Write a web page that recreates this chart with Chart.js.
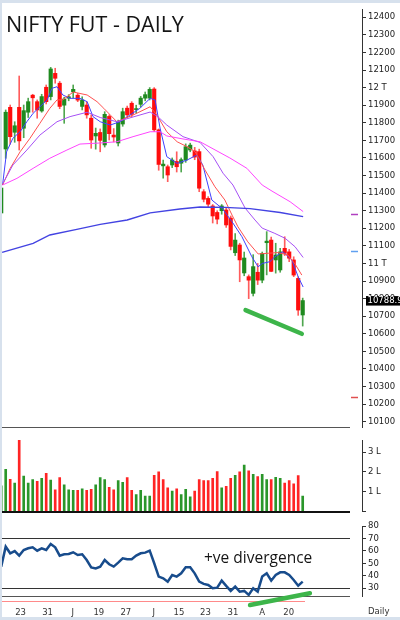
<!DOCTYPE html>
<html>
<head>
<meta charset="utf-8">
<title>NIFTY FUT - DAILY</title>
<script src="https://cdn.jsdelivr.net/npm/chart.js@4.4.1/dist/chart.umd.min.js"></script>
<style>
  html, body { margin: 0; padding: 0; background: #d7e1ed; }
  #page { position: relative; width: 400px; height: 620px; overflow: hidden; background: #fff; }
  #page canvas { position: absolute; left: 0; }
  .edge { position: absolute; background: #d7e1ed; }
</style>
</head>
<body>
<div id="page">
  <canvas id="priceChart" width="400" height="436" style="top:0px"></canvas>
  <canvas id="volumeChart" width="400" height="92" style="top:428px"></canvas>
  <canvas id="rsiChart" width="400" height="106" style="top:514px"></canvas>
  <div class="edge" style="left:0;top:0;width:2px;height:620px"></div>
  <div class="edge" style="left:0;top:0;width:400px;height:3px"></div>
  <div class="edge" style="left:0;top:617px;width:400px;height:3px"></div>
</div>
<script>
// Daily candles (one per trading day)
const opens  = [11287,11651,11888,11746,11888,11769,11860,11957,11920,11867,12002,11949,12081,12025,11900,11940,11976,11957,11893,11901,11826,11725,11745,11674,11836,11730,11685,11793,11883,11911,11875,11905,11940,11940,11992,11760,11555,11550,11560,11580,11570,11588,11645,11640,11636,11408,11370,11327,11290,11300,11304,11258,11061,11105,10946,10925,10830,10950,10905,11118,11133,11020,10963,11086,11066,11020,10915,10707];
const highs  = [11440,11873,11901,11806,12066,11901,11940,11962,11930,11962,12015,12115,12110,12035,11945,11960,12015,11967,11948,11920,11845,11770,11765,11863,11845,11767,11815,11883,11895,11920,11900,11950,11975,12000,12000,11765,11588,11560,11600,11635,11600,11680,11684,11660,11650,11420,11380,11335,11300,11335,11315,11270,11170,11115,11065,10935,11050,11000,11065,11181,11150,11115,11086,11152,11080,11038,10925,10803];
const lows   = [11270,11598,11678,11689,11645,11715,11830,11860,11826,11860,11907,11930,12025,11880,11797,11925,11940,11920,11873,11826,11655,11650,11635,11662,11702,11691,11668,11780,11830,11835,11855,11890,11925,11930,11750,11530,11485,11465,11545,11520,11520,11575,11635,11590,11408,11350,11320,11230,11225,11280,11205,11077,11045,10896,10930,10800,10815,10880,10890,10935,10953,10945,10950,11045,11010,10925,10705,10644];
const closes = [11429,11860,11721,11783,11697,11869,11920,11942,11873,11949,11920,12106,12053,11893,11935,11948,11990,11929,11930,11845,11702,11740,11700,11848,11738,11719,11806,11863,11845,11848,11880,11940,11960,11990,11760,11563,11565,11503,11588,11550,11590,11664,11673,11605,11428,11365,11337,11270,11252,11327,11219,11097,11133,11020,11031,10905,10982,10905,11057,11127,10955,11048,11066,11058,11030,10934,10735,10789];

// Volume in lakh, and the colour of each volume bar (G up / R down)
const volumes = [1.3,2.13,1.62,1.44,3.60,1.79,1.44,1.61,1.52,1.68,1.93,1.59,1.10,1.71,1.35,1.10,1.07,1.07,1.15,1.07,1.12,1.35,1.71,1.61,1.22,1.10,1.56,1.47,1.71,1.07,0.86,1.07,0.78,0.78,1.83,2.00,1.61,1.20,1.03,1.15,0.86,1.12,0.74,1.03,1.61,1.56,1.56,1.68,2.01,1.20,1.27,1.68,1.83,2.00,2.34,2.05,1.88,1.76,1.88,1.61,1.61,1.73,1.68,1.44,1.56,1.40,1.81,0.78];
const volumeDir = 'GGRGRGGGRGRGRRGGGRGRRGGGRRGGRRGGGGRRRRGRGGGRRRRRRGRRGRGRGRGGRGGRRRRG'.split('');

// RSI per candle
const rsiValues = [47.4,63.4,58.1,59.9,56.2,60.7,62.1,62.9,60.2,62.1,60.7,65.6,62.9,56.2,57.3,57.5,58.9,56.7,57.3,52.7,46.8,46.0,47.4,52.7,49.3,47.4,50.6,54.1,53.3,53.3,56.2,58.1,58.6,60.2,50.1,39.4,38.0,35.3,40.7,39.4,42.0,46.8,46.8,42.0,35.3,33.5,32.7,30.0,30.5,36.1,31.9,27.9,31.3,27.3,27.9,24.7,30.0,27.3,39.4,42.0,36.1,40.7,42.8,42.8,40.7,36.7,32.1,35.3];

// Moving averages as [candle index, price] read at the visible bends
const ma5Pts = [[0.3,11446],[1.2,11635],[2.6,11712],[4.2,11749],[5.7,11806],[7.1,11854],[8.6,11891],[10.2,11930],[11.3,11996],[12.4,12005],[13.7,11958],[15.3,11939],[17.5,11939],[19.1,11920],[20.4,11835],[22,11806],[24.2,11787],[26.4,11806],[28.6,11844],[30.8,11882],[33.1,11939],[34.2,11930],[35.3,11770],[36.8,11607],[39.1,11569],[41.3,11588],[43.5,11617],[44.8,11560],[46.8,11361],[49.1,11313],[51.3,11237],[53.5,11152],[55.7,11038],[57.1,10981],[58,11000],[59.7,11010],[60.8,11038],[62.6,11067],[64.6,11019],[66,10924],[67.1,10866]];
const ma10Pts = [[0.3,11446],[2,11541],[4.2,11635],[6.4,11712],[8.6,11797],[10.8,11882],[12.4,11930],[13.7,11930],[16,11975],[19.1,11958],[21.3,11920],[22.8,11882],[25.7,11806],[29.3,11844],[33.1,11891],[34.6,11844],[36.8,11749],[39.1,11692],[41.3,11664],[43.1,11635],[45.3,11531],[47.5,11436],[49.7,11361],[51.3,11275],[52.6,11209],[54.8,11123],[57.1,11054],[59.3,11058],[61.5,11062],[63.7,11048],[65.3,10997],[66.8,10934]];
const ma20Pts = [[0.4,11456],[2.6,11560],[5.7,11645],[8.6,11730],[12.4,11806],[15.3,11835],[19.1,11860],[22,11830],[25.7,11806],[29.3,11833],[33.1,11861],[34.8,11835],[36.8,11787],[40.4,11721],[44.2,11688],[47.1,11607],[49.3,11513],[51.5,11446],[54.2,11315],[56.4,11247],[58,11201],[60.8,11171],[63.1,11143],[65.3,11095],[67.1,11034]];
const ma50Pts = [[0.3,11446],[3.5,11484],[7.1,11541],[10.8,11598],[14.6,11645],[17.5,11679],[22,11685],[25.7,11692],[29.3,11721],[33.1,11749],[35.3,11749],[36.8,11725],[40.4,11708],[44.2,11692],[50.8,11600],[54.6,11541],[58,11446],[60.4,11408],[64.2,11351],[67.1,11295]];
const ma200Pts = [[0.2,11063],[7.1,11114],[10.8,11162],[16.8,11194],[22,11222],[28,11247],[33.1,11288],[39.7,11310],[44.2,11321],[49.7,11319],[55.3,11312],[62,11290],[67.1,11266]];

// Divergence strokes drawn on the chart
const priceDivergence = [[54.3,10735],[66.8,10600]];
const rsiDivergence = [[55.3,16.6],[68.6,26.0]];

// Axis ticks and labels
const priceTicks = [10100,10200,10300,10400,10500,10600,10700,10800,10900,11000,11100,11200,11300,11400,11500,11600,11700,11800,11900,12000,12100,12200,12300,12400];
const volumeTicks = [0,1,2,3];
const rsiTicks = [30,40,50,60,70,80];
const dateTickPos = [4.3,10.3,15.9,21.7,27.7,33.9,39.5,45.4,51.5,58.0,63.9];
const dateTickLabels = ['23','31','J','19','27','J','15','23','31','A','20'];
const levelMarks = [11281,11071,10238];
const levelColors = ['#b040c0','#60a0f0','#e05050'];
const lastPrice = 10788.9;

// ---- layout ----
const X_MIN = -1.2 / 4.5, X_MAX = (362 - 1.2) / 4.5;
const PANEL_RIGHT = 350;
const axisFont = { family: 'DejaVu Sans', size: 8.5 };

const idx = closes.map((_, i) => i);
const isUp = i => closes[i] >= opens[i];
const pts = arr => arr.map(p => ({ x: p[0], y: p[1] }));

function lineSet(arr, color, width) {
  return { type: 'line', data: pts(arr), borderColor: color, borderWidth: width,
           pointRadius: 0, tension: 0, fill: false, order: 0 };
}

function rightAxis(min, max, tickVals, fmt) {
  return {
    position: 'right', min: min, max: max,
    afterFit: s => { s.width = 38; },
    afterBuildTicks: s => { s.ticks = tickVals.map(v => ({ value: v })); },
    grid: { drawOnChartArea: false, tickLength: 4, color: '#333' },
    border: { display: true, color: '#333' },
    ticks: { autoSkip: false, padding: 2, color: '#222', font: axisFont, callback: fmt }
  };
}

const hiddenX = { type: 'linear', min: X_MIN, max: X_MAX, offset: false, display: false };

function baseOptions(padding) {
  return {
    responsive: false, animation: false, events: [],
    layout: { padding: padding },
    plugins: { legend: { display: false }, tooltip: { enabled: false } }
  };
}

function hLine(ctx, y, x1, x2, color, width) {
  ctx.strokeStyle = color;
  ctx.lineWidth = width;
  ctx.beginPath();
  ctx.moveTo(x1, y);
  ctx.lineTo(x2, y);
  ctx.stroke();
}

// Price panel
const priceDecor = {
  id: 'priceDecor',
  afterDraw(chart) {
    const { ctx, chartArea, scales } = chart;
    ctx.save();
    hLine(ctx, chartArea.bottom + 0.5, 0, PANEL_RIGHT, '#555', 1);

    levelMarks.forEach((v, k) => {
      hLine(ctx, Math.round(scales.y.getPixelForValue(v)) + 0.5, 351, 358, levelColors[k], 1.5);
    });

    const yl = scales.y.getPixelForValue(lastPrice);
    ctx.fillStyle = '#000';
    ctx.fillRect(chartArea.right + 4, yl - 4.5, 40, 9.5);
    ctx.fillStyle = '#fff';
    ctx.font = '8.5px "DejaVu Sans"';
    ctx.textBaseline = 'middle';
    ctx.fillText(lastPrice.toFixed(1), chartArea.right + 5.5, yl + 0.5);

    ctx.fillStyle = '#151515';
    ctx.font = '21.5px "Open Sans"';
    ctx.textBaseline = 'alphabetic';
    ctx.fillText('NIFTY FUT - DAILY', 6, 31.5);
    ctx.restore();
  }
};

new Chart(document.getElementById('priceChart'), {
  type: 'bar',
  data: {
    datasets: [
      lineSet(ma200Pts, '#4343e2', 1.4),
      lineSet(ma50Pts, '#ff45ff', 1),
      lineSet(ma20Pts, '#a650f5', 1),
      lineSet(ma10Pts, '#ff5050', 1),
      lineSet(ma5Pts, '#4040ff', 1),
      Object.assign(lineSet(priceDivergence, '#3db54a', 4.5), { borderCapStyle: 'round' }),
      {
        data: idx.map(i => ({ x: i, y: [lows[i], highs[i]] })),
        backgroundColor: idx.map(i => isUp(i) ? '#4fa64f' : '#ff5c5c'),
        barThickness: 1, grouped: false, order: 2
      },
      {
        data: idx.map(i => ({ x: i, y: [opens[i], closes[i]] })),
        backgroundColor: idx.map(i => isUp(i) ? '#1f8a1f' : '#ff0d0d'),
        barThickness: 3.5, grouped: false, minBarLength: 1, order: 1
      }
    ]
  },
  options: Object.assign(baseOptions({ left: 0, right: 0, top: 9, bottom: 9 }), {
    scales: {
      x: hiddenX,
      y: rightAxis(10070, 12447, priceTicks, v => v === 12000 ? '12 T' : v === 11000 ? '11 T' : String(v))
    }
  }),
  plugins: [priceDecor]
});

// Volume panel
const volumeDecor = {
  id: 'volumeDecor',
  afterDatasetsDraw(chart) {
    const { ctx, scales } = chart;
    ctx.save();
    hLine(ctx, Math.round(scales.y.getPixelForValue(0)), 0, PANEL_RIGHT, '#111', 2);
    ctx.restore();
  }
};

new Chart(document.getElementById('volumeChart'), {
  type: 'bar',
  data: {
    datasets: [{
      data: idx.map(i => ({ x: i, y: volumes[i] })),
      backgroundColor: idx.map(i => volumeDir[i] === 'G' ? '#2a962a' : '#ff2424'),
      barThickness: 2
    }]
  },
  options: Object.assign(baseOptions({ left: 0, right: 0, top: 12, bottom: 8.5 }), {
    scales: {
      x: hiddenX,
      y: rightAxis(0, 3.61, volumeTicks, v => v ? v + ' L' : '')
    }
  }),
  plugins: [volumeDecor]
});

// RSI panel
const rsiDecor = {
  id: 'rsiDecor',
  beforeDatasetsDraw(chart) {
    const { ctx, chartArea, scales } = chart;
    ctx.save();
    hLine(ctx, Math.round(scales.y.getPixelForValue(70)) + 0.5, 0, PANEL_RIGHT, '#333', 1);
    hLine(ctx, Math.round(scales.y.getPixelForValue(30)) + 0.5, 0, PANEL_RIGHT, '#333', 1);
    hLine(ctx, chartArea.bottom + 0.5, 0, PANEL_RIGHT, '#555', 1);
    hLine(ctx, chartArea.bottom + 5.5, 0, 305, '#ff8a8a', 1);
    ctx.restore();
  },
  afterDraw(chart) {
    const { ctx, chartArea } = chart;
    ctx.save();
    ctx.fillStyle = '#151515';
    ctx.font = '15.5px "Open Sans"';
    ctx.textBaseline = 'alphabetic';
    ctx.fillText('+ve divergence', 204, 49);
    ctx.fillStyle = '#333';
    ctx.font = '8.5px "DejaVu Sans"';
    ctx.textBaseline = 'middle';
    ctx.fillText('Daily', chartArea.right + 6, 98);
    ctx.restore();
  }
};

new Chart(document.getElementById('rsiChart'), {
  type: 'line',
  data: {
    datasets: [
      { data: idx.map(i => ({ x: i, y: rsiValues[i] })), borderColor: '#184c8c', borderWidth: 2.5,
        pointRadius: 0, tension: 0, fill: false },
      { data: pts(rsiDivergence), borderColor: '#3db54a', borderWidth: 4.5, borderCapStyle: 'round',
        pointRadius: 0, fill: false, clip: false }
    ]
  },
  options: Object.assign(baseOptions({ left: 0, right: 0, top: 12, bottom: 0 }), {
    scales: {
      x: {
        type: 'linear', min: X_MIN, max: X_MAX, offset: false,
        afterFit: s => { s.height = 24; },
        afterBuildTicks: s => { s.ticks = dateTickPos.map(v => ({ value: v })); },
        grid: { display: false, drawTicks: false },
        border: { display: false },
        ticks: { autoSkip: false, maxRotation: 0, padding: 12, color: '#333', font: axisFont,
                 callback: (v, i) => dateTickLabels[i] }
      },
      y: rightAxis(23.8, 80, rsiTicks, v => String(v))
    }
  }),
  plugins: [rsiDecor]
});
</script>
</body>
</html>
